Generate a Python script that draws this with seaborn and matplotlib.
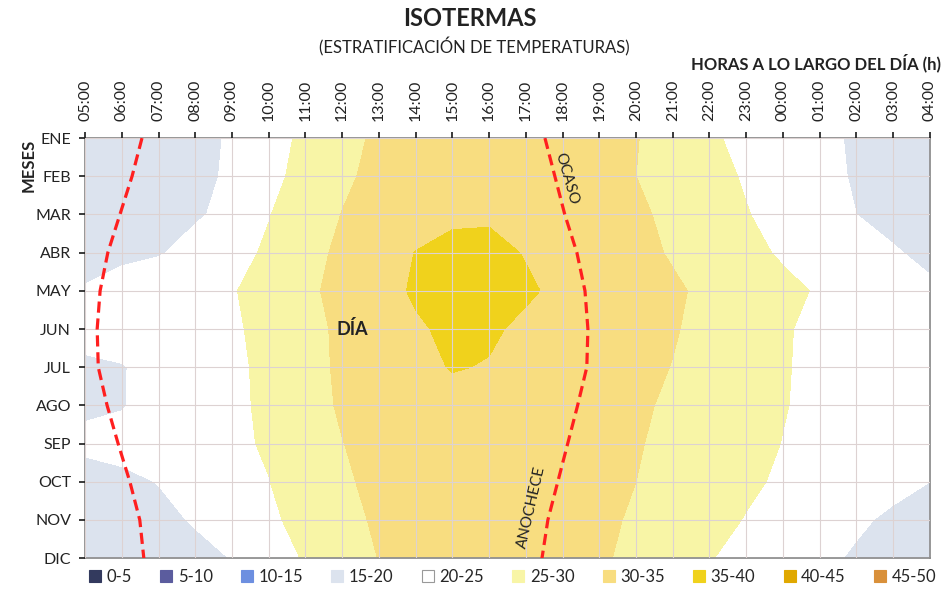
import numpy as np
import matplotlib
matplotlib.use("Agg")
import matplotlib.pyplot as plt
from matplotlib.lines import Line2D
import seaborn as sns

hours = ["05:00", "06:00", "07:00", "08:00", "09:00", "10:00", "11:00", "12:00",
         "13:00", "14:00", "15:00", "16:00", "17:00", "18:00", "19:00", "20:00",
         "21:00", "22:00", "23:00", "00:00", "01:00", "02:00", "03:00", "04:00"]
months = ["ENE", "FEB", "MAR", "ABR", "MAY", "JUN", "JUL", "AGO", "SEP", "OCT", "NOV", "DIC"]

# temperatura (ºC) por hora, una fila por mes
temp_ene = [17.0, 17.5, 18.3, 19.2, 20.3, 23.3, 25.9, 28.5, 30.8, 31.8, 32.5, 33.0, 33.0, 32.5, 31.5, 30.2, 27.9, 25.6, 23.9, 22.4, 20.9, 19.5, 18.5, 17.5]
temp_feb = [17.0, 17.5, 18.3, 19.3, 20.4, 23.7, 26.5, 29.2, 31.2, 32.2, 33.0, 33.5, 33.5, 33.0, 32.0, 30.0, 28.1, 26.3, 24.6, 22.9, 21.2, 19.6, 18.5, 17.5]
temp_mar = [17.5, 18.0, 18.8, 19.6, 20.9, 24.8, 27.5, 30.1, 31.8, 33.0, 34.0, 34.5, 34.0, 33.5, 32.5, 31.0, 28.7, 26.9, 25.2, 23.5, 21.7, 20.0, 19.0, 18.5]
temp_abr = [18.5, 19.2, 19.7, 21.2, 23.4, 25.7, 28.4, 30.9, 33.0, 35.1, 36.5, 36.0, 34.8, 33.5, 32.3, 31.2, 29.6, 27.9, 26.1, 24.5, 23.1, 21.7, 20.3, 19.2]
temp_may = [20.3, 21.5, 22.5, 23.6, 24.7, 26.7, 29.1, 31.3, 33.5, 35.5, 37.0, 36.8, 35.5, 34.2, 33.0, 31.8, 30.6, 29.1, 27.6, 26.0, 24.6, 23.4, 22.0, 20.6]
temp_jun = [21.0, 21.8, 22.7, 23.6, 24.4, 26.2, 28.6, 30.8, 33.0, 34.5, 35.8, 35.5, 34.3, 33.3, 32.4, 31.5, 30.3, 28.8, 27.1, 25.4, 24.0, 23.0, 22.2, 21.5]
temp_jul = [19.5, 19.8, 21.2, 22.6, 24.0, 26.1, 28.5, 30.7, 32.5, 34.0, 35.2, 34.8, 33.8, 33.0, 32.0, 31.0, 29.9, 28.4, 27.0, 25.3, 24.0, 23.0, 22.3, 21.7]
temp_ago = [19.4, 19.8, 21.3, 22.6, 23.9, 26.0, 28.3, 30.5, 32.0, 33.0, 33.8, 33.8, 33.2, 32.5, 31.6, 30.7, 29.3, 27.9, 26.6, 25.2, 24.0, 23.2, 22.4, 21.8]
temp_sep = [20.8, 21.2, 22.0, 23.0, 24.1, 25.5, 27.8, 29.9, 31.5, 32.5, 33.2, 33.2, 32.8, 32.0, 31.2, 30.3, 29.0, 27.6, 26.3, 24.9, 23.8, 23.0, 22.2, 21.5]
temp_oct = [18.5, 19.2, 20.1, 21.7, 23.4, 24.9, 27.2, 29.3, 31.2, 32.2, 33.0, 33.0, 32.5, 31.8, 31.0, 30.0, 28.5, 27.1, 25.7, 24.4, 23.2, 22.2, 21.1, 20.0]
temp_nov = [17.5, 18.3, 19.1, 20.3, 22.1, 24.2, 26.4, 28.5, 30.7, 31.8, 32.5, 32.5, 32.0, 31.3, 30.5, 29.7, 27.9, 26.3, 24.8, 23.4, 22.0, 20.6, 19.3, 18.5]
temp_dic = [16.5, 17.3, 18.1, 19.0, 20.1, 22.7, 25.4, 27.7, 30.1, 31.3, 32.0, 32.0, 31.5, 30.9, 30.6, 28.9, 27.0, 25.2, 23.7, 22.3, 20.9, 19.5, 18.5, 17.8]

# amanecer y anochecer (horas desde las 05:00)
sunrise = [1.55, 1.28, 0.95, 0.62, 0.41, 0.33, 0.36, 0.60, 0.90, 1.22, 1.49, 1.60]
sunset = [12.52, 12.79, 13.06, 13.39, 13.61, 13.69, 13.66, 13.41, 13.14, 12.87, 12.60, 12.44]

band_labels = ["0-5", "5-10", "10-15", "15-20", "20-25", "25-30", "30-35", "35-40", "40-45", "45-50"]
band_colors = ["#333a5e", "#5b5c9e", "#6d8fe0", "#dce3ee", "#ffffff",
               "#f8f5a6", "#f8dd80", "#f0d21c", "#e0a800", "#d9903a"]
levels = np.arange(0, 55, 5)

sns.set_theme(style="ticks")
plt.rcParams["font.family"] = ["Lato", "DejaVu Sans"]

grid = np.array([temp_ene, temp_feb, temp_mar, temp_abr, temp_may, temp_jun,
                 temp_jul, temp_ago, temp_sep, temp_oct, temp_nov, temp_dic])
x = np.arange(len(hours))
y = np.arange(len(months))

fig = plt.figure(figsize=(9.45, 5.9), dpi=100)
ax = fig.add_axes([0.090, 0.054, 0.894, 0.712])
ax.contourf(x, y, grid, levels=levels, colors=band_colors, zorder=1)

ax.set_xlim(0, 23)
ax.set_ylim(11, 0)
ax.xaxis.tick_top()
ax.set_xticks(x)
ax.set_xticklabels(hours, rotation=90)
ax.set_yticks(y)
ax.set_yticklabels(months)
ax.tick_params(axis="x", labelsize=11.5, length=4, pad=8, colors="#222222")
ax.tick_params(axis="y", labelsize=11.5, length=4, pad=6, colors="#222222")
ax.grid(True, color="#ddd2d2", lw=0.8)
ax.set_axisbelow(False)
for sp in ax.spines.values():
    sp.set_color("#8a8a8a")
    sp.set_visible(True)

sns.lineplot(x=sunrise, y=y, orient="y", ax=ax, color="#ff1f1f", lw=2.3,
             linestyle=(0, (3.5, 1.8)), zorder=4)
sns.lineplot(x=sunset, y=y, orient="y", ax=ax, color="#ff1f1f", lw=2.3,
             linestyle=(0, (3.5, 1.8)), zorder=4)
ax.set_xlabel("")
ax.set_ylabel("")

ax.text(7.27, 5.0, "DÍA", fontsize=13, fontweight="bold", ha="center", va="center", color="#222222")
ax.text(13.1, 1.05, "OCASO", fontsize=11, rotation=-74, ha="center", va="center", color="#222222")
ax.text(12.16, 9.66, "ANOCHECE", fontsize=11, rotation=77, ha="center", va="center", color="#222222")

fig.text(0.497, 0.968, "ISOTERMAS", fontsize=17, fontweight="bold", ha="center", va="center", color="#222222")
fig.text(0.502, 0.920, "(ESTRATIFICACIÓN DE TEMPERATURAS)", fontsize=12, ha="center", va="center", color="#222222")
fig.text(0.996, 0.894, "HORAS A LO LARGO DEL DÍA (h)", fontsize=12, fontweight="bold", ha="right", va="center", color="#222222")
fig.text(0.030, 0.72, "MESES", fontsize=12, fontweight="bold", rotation=90, ha="center", va="center", color="#222222")

handles = []
for lab, col in zip(band_labels, band_colors):
    edge = "#999999" if col == "#ffffff" else col
    handles.append(Line2D([], [], marker="s", linestyle="", markersize=8,
                          markerfacecolor=col, markeredgecolor=edge, markeredgewidth=0.8))
fig.legend(handles, band_labels, loc="center", bbox_to_anchor=(0.542, 0.022), ncol=10,
           frameon=False, fontsize=12, handlelength=0.8, handletextpad=0.3,
           columnspacing=1.65, borderaxespad=0)

fig.savefig("out.png", dpi=100)
